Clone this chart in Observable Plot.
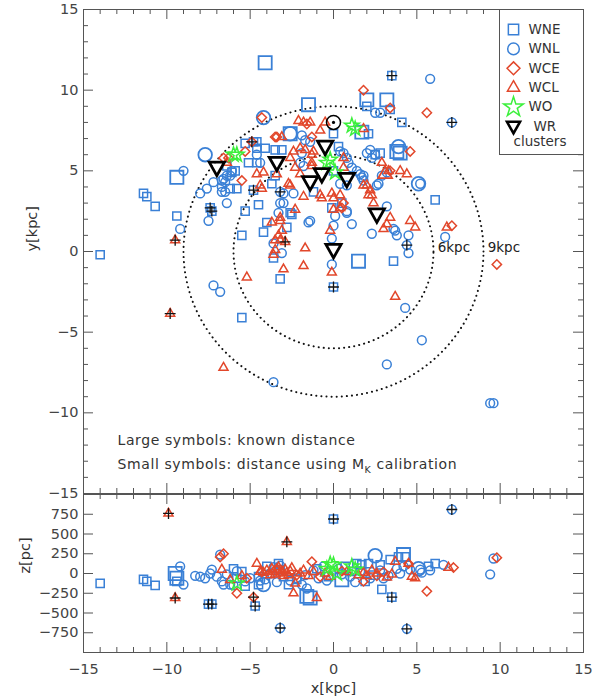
<!DOCTYPE html>
<html><head><meta charset="utf-8">
<script src="https://cdn.jsdelivr.net/npm/d3@7"></script>
<script src="https://cdn.jsdelivr.net/npm/@observablehq/plot@0.6"></script>
<style>
body{margin:0;background:#fff;}
#chart{position:relative;width:603px;height:699px;}
#chart svg{display:block;}
</style></head><body><div id="chart"></div>
<script>
// ---------- data: top panel (x, y [kpc], big = known distance, plus = marked) ----------
const wneXY = [[-4.1,11.7,1,0],[-5.3,6.7,0,0],[-4.6,6.8,0,0],[-4.6,6.4,0,0],[-4.1,6.4,0,0],[-2.6,7.3,1,0],[-9.4,4.6,1,0],[-11.4,3.6,0,0],[-11.2,3.4,0,0],[-10.7,2.8,0,0],[-9.4,2.2,0,0],[-7.4,2.7,0,1],[-7.3,2.5,0,1],[-5.8,3.9,0,0],[-5.1,5.5,0,0],[-4.6,5.5,0,0],[-4.8,3.8,0,1],[-5.3,2.5,0,0],[-4.5,2.9,0,0],[-2.6,2.4,0,0],[-5.5,1.0,0,0],[-4.0,1.8,0,0],[-4.2,1.2,0,0],[-2.8,1.5,0,0],[-14.0,-0.2,0,0],[-5.5,-4.1,0,0],[-3.2,-1.7,0,0],[-3.6,-0.4,0,0],[-2.5,2.3,0,0],[0,-2.2,0,1],[1.5,-0.6,1,0],[3.6,-0.6,0,0],[3.5,10.9,0,1],[2.0,9.4,1,0],[3.2,9.4,1,0],[2.0,9.0,0,0],[3.4,8.8,0,0],[4.1,8.0,0,0],[-1.5,9.1,1,0],[1.7,7.4,1,0],[2.1,7.3,0,0],[0,7.3,0,0],[0.3,6.5,0,0],[3.8,6.2,1,0],[4.0,6.1,1,0],[2.8,6.1,0,0],[2.5,6.0,0,0],[6.1,3.2,0,0],[-4.8,6.8,0,0],[-3.5,6.3,0,0],[-3.1,6.3,0,0],[-6.1,4.9,0,0],[-5.9,5.0,0,0],[-6.4,5.3,0,0],[-6.2,3.9,0,0],[-3.5,4.7,0,0],[-3.7,4.2,0,0],[-1.2,3.7,0,0],[0,5.0,0,0],[0.5,3.0,0,0],[-0.1,2.7,0,0]];
const wnlXY = [[-4.2,8.3,1,0],[-7.7,6.0,1,0],[-9.0,5.0,0,0],[-9.2,1.4,0,0],[-8.0,3.6,0,0],[-7.6,3.9,0,0],[-7.2,4.3,0,0],[-6.7,3.7,0,0],[-6.5,3.7,0,0],[-6.4,3.0,0,0],[-7.5,1.9,0,0],[-6.6,4.5,0,0],[-6.4,4.7,0,0],[-6.1,5.0,0,0],[-2.6,7.3,1,0],[-3.2,3.7,0,1],[-2.4,3.6,0,0],[-3.2,3.0,0,0],[-3.0,3.0,0,0],[-3.3,2.4,0,0],[-7.2,-2.1,0,0],[-6.8,-2.5,0,0],[-3.6,-8.1,0,0],[-3.1,-0.1,0,0],[-3.6,0.5,0,0],[-1.5,1.8,0,0],[0.8,2.4,0,0],[-1.4,1.9,0,0],[0,1.6,0,0],[1.1,1.7,0,0],[-0.1,0.8,0,0],[-0.1,-0.8,0,0],[3.2,2.8,0,0],[3.6,1.4,0,0],[3.7,1.3,0,0],[3.8,1.0,0,0],[2.3,1.1,0,0],[4.4,0.4,0,1],[4.5,-0.1,0,0],[4.5,1.0,0,0],[4.3,-3.5,0,0],[5.3,-5.5,0,0],[3.2,-7.0,0,0],[9.4,-9.4,0,0],[9.6,-9.4,0,0],[5.8,10.7,0,0],[2.5,8.6,0,0],[2.8,8.6,0,0],[7.1,8.0,0,1],[0.6,6.1,0,0],[0.4,6.2,0,0],[2.0,6.1,0,0],[2.3,5.8,0,0],[3.9,6.5,1,0],[1.6,4.8,0,0],[1.7,4.6,0,0],[1.8,4.4,0,0],[2.6,4.1,0,0],[5.1,4.2,1,0],[5.2,4.2,0,0],[6.7,0.9,0,0],[0.8,2.5,0,0],[0.1,2.2,0,0],[-1.9,7.2,0,0],[-1.7,6.9,0,0],[-1.9,6.1,0,0],[-1.4,6.8,0,0],[-2.0,5.5,0,0],[-1.8,5.3,0,0],[0.9,5.5,0,0],[1.1,5.2,0,0],[0.8,5.8,0,0],[1.4,5.0,0,0],[1.8,4.7,0,0],[2.9,4.7,0,0],[3.2,4.9,0,0],[0.4,4.2,0,0],[0.8,4.1,0,0],[2.2,6.3,0,0],[2.5,6.0,0,0],[-4.6,6.0,0,0],[-4.4,5.5,0,0],[-3.0,3.6,0,0],[-6.7,4.0,0,0],[-6.2,4.7,0,0],[-6.7,4.4,0,0],[-6.5,4.3,0,0],[2.7,4.2,0,0]];
const wceXY = [[-4.3,8.3,0,0],[-4.9,6.8,0,1],[-3.5,7.1,0,0],[-5.3,6.2,0,0],[-5.5,4.4,0,0],[-3.4,7.1,0,0],[1.8,10.0,0,0],[3.4,8.9,0,0],[5.6,8.6,0,0],[-1.3,7.1,0,0],[-1.6,7.9,0,0],[4.6,6.2,0,0],[3.4,5.0,0,0],[0.6,3.0,0,0],[0.5,2.7,0,0],[7.1,1.6,0,0],[9.8,-0.8,0,0],[-6.6,5.8,0,0],[-6.3,5.8,0,0]];
const wclXY = [[-3.1,7.1,0,0],[-4.6,4.8,0,0],[-4.2,4.9,0,0],[-4.4,4.1,0,0],[-4.3,3.9,0,0],[-2.6,4.1,0,0],[-2.3,2.6,0,0],[-3.7,1.8,0,0],[-3.2,1.9,0,0],[-3.1,1.3,0,0],[-3.3,1.0,0,0],[-2.9,0.6,0,1],[-9.5,0.7,0,1],[-9.8,-3.85,0,1],[-6.6,-7.2,0,0],[-5.2,-1.6,0,0],[-3.0,-1.1,0,0],[-3.6,-0.2,0,0],[-3.5,0.1,0,0],[-1.7,0.2,0,0],[-1.8,-0.9,0,0],[-3.2,2.1,0,0],[-3.5,0.7,0,0],[-3.2,0.7,0,0],[-0.7,3.3,0,0],[0,3.3,0,0],[0,2.6,0,0],[0.4,2.7,0,0],[-0.2,1.3,0,0],[-0.1,-1.3,0,0],[3.4,2.1,0,0],[3.2,1.7,0,0],[3.0,1.4,0,0],[4.6,1.9,0,0],[4.9,1.5,0,0],[3.7,-2.8,0,0],[6.8,1.5,0,0],[-0.5,8.0,0,0],[-1.8,8.0,0,0],[-1.4,8.0,0,0],[-2.1,8.1,0,0],[1.8,7.6,0,0],[0.6,5.8,0,0],[-1.2,6.2,0,0],[2.9,5.5,0,0],[3.1,4.8,1,0],[3.3,5.0,0,0],[4.0,5.0,0,0],[4.4,4.8,0,0],[1.8,4.1,0,0],[2.2,3.8,0,0],[2.3,3.5,0,0],[2.0,4.1,0,0],[2.1,3.5,0,0],[2.4,3.0,0,0],[-1.3,6.0,0,0],[-1.3,5.5,0,0],[-1.3,5.3,0,0],[0.6,5.2,0,0],[-0.1,3.6,0,0],[0.4,3.5,0,0],[-2.0,4.8,0,0],[-1.8,3.4,0,0],[-0.8,3.5,0,0],[-2.4,6.2,0,0],[-2.0,6.4,0,0],[-1.7,6.3,0,0],[-2.6,5.8,0,0],[-2.3,5.2,0,0],[-3.4,4.8,0,0],[-2.7,4.2,0,0],[-6.4,5.5,0,0],[-0.8,7.5,0,0]];
const woXY = [[-6.0,6.0],[-5.8,6.0],[1.1,7.8],[1.3,7.6],[-0.2,5.7],[0.1,4.9],[-0.4,5.5]];
const wrClusters = [[-7.0,5.2],[-3.4,5.5],[-0.5,6.5],[-0.7,4.8],[-1.4,4.3],[0.8,4.5],[2.6,2.3],[0,0.1]];
const sun = [[0,8.0]];
const ringRadii = [6, 9];

// ---------- data: bottom panel (x [kpc], z [pc], big, plus) ----------
const wneXZ = [[-14.0,-125,0,0],[-11.4,-75,0,0],[-11.2,-100,0,0],[-10.7,-150,0,0],[-9.5,0,1,0],[-9.4,-60,1,0],[-9.4,-100,0,0],[-7.5,-388,0,1],[-7.3,-388,0,1],[-6.0,60,0,0],[-5.5,25,0,0],[-5.3,-160,0,0],[-4.7,-412,0,1],[-4.5,-40,0,0],[-4.5,-140,0,0],[-3.3,125,0,0],[-3.2,50,0,0],[-3.0,-40,0,0],[-2.7,-140,0,0],[-2.2,-75,0,0],[-1.6,-290,1,0],[-1.4,-310,1,0],[0,690,0,1],[0.7,90,0,0],[1.1,25,0,0],[1.7,110,0,0],[2.1,125,0,0],[1.4,125,0,0],[1.9,-100,0,0],[2.8,110,0,0],[2.9,-200,0,0],[3.5,-300,0,1],[3.4,175,0,0],[3.9,210,0,0],[4.2,240,1,0],[4.3,210,0,0],[5.7,90,0,0],[6.1,125,0,0],[-1.0,60,0,0],[-0.3,-40,0,0],[0.5,-80,1,0],[2.4,-20,0,0],[-5.8,-60,0,0],[-4.0,90,0,0]];
const wnlXZ = [[-9.2,90,0,0],[-9.0,-140,0,0],[-8.0,-40,0,0],[-7.7,-60,0,0],[-7.4,0,0,0],[-7.0,-40,0,0],[-7.3,50,0,0],[-6.8,240,0,0],[-6.7,-100,0,0],[-6.6,-140,0,0],[-6.2,-140,0,0],[-4.2,-140,1,0],[-4.1,-75,0,0],[-3.8,0,0,0],[-3.2,-690,0,1],[-1.9,-140,0,0],[-1.6,-190,0,0],[-0.6,90,0,0],[0.5,-10,0,0],[2.5,225,1,0],[3.8,60,0,0],[4.2,90,0,0],[4.6,50,0,0],[5.1,60,1,0],[5.2,50,0,0],[5.3,10,0,0],[5.8,40,0,0],[6.6,110,0,0],[9.6,190,0,0],[9.4,-10,0,0],[4.4,-700,0,1],[7.1,810,0,1],[-5.8,30,0,0],[-5.0,-60,0,0],[-4.4,-90,0,0],[-3.6,80,0,0],[-2.2,-60,0,0],[-1.2,40,0,0],[-0.4,-90,0,0],[0.3,60,0,0],[1.0,-40,0,0],[1.6,30,0,0],[2.2,-60,0,0],[2.8,40,0,0],[3.3,-30,0,0],[-2.6,-90,0,0],[-1.7,-20,0,0],[-3.2,100,0,0],[-6.0,-150,0,0],[-8.3,-30,0,0],[-6.4,-10,0,0],[-5.3,-100,0,0],[-3.4,-110,0,0],[1.3,-110,0,0],[3.0,-60,0,0],[4.0,0,0,0],[-0.9,-60,0,0]];
const wceXZ = [[-6.8,210,0,0],[-6.6,250,0,0],[-5.8,-250,0,0],[-5.2,-60,0,0],[-4.8,-300,0,1],[-1.3,150,0,0],[1.8,-100,0,0],[4.5,125,0,0],[5.6,-225,0,0],[7.2,75,0,0],[9.8,200,0,0],[-4.3,20,0,0],[-2.2,-20,0,0],[0.5,30,0,0],[2.6,-30,0,0],[-3.4,60,0,0],[3.0,20,0,0],[-0.8,-40,0,0]];
const wclXZ = [[-9.9,760,0,1],[-9.5,-310,0,1],[-6.7,50,0,0],[-4.6,125,0,0],[-4.4,25,0,0],[-2.8,400,0,1],[-2.4,-250,0,0],[-2.3,-125,0,0],[-1.0,-310,0,0],[3.7,150,0,0],[4.5,125,0,0],[4.7,-40,0,0],[4.9,-60,0,0],[6.9,75,0,0],[-4.2,10,0,0],[-4.0,40,0,0],[-3.8,-20,0,0],[-3.7,60,0,0],[-3.6,20,0,0],[-3.5,-10,0,0],[-3.4,40,0,0],[-3.3,80,0,0],[-3.2,0,0,0],[-3.1,30,0,0],[-3.0,-30,0,0],[-2.9,50,0,0],[-2.8,10,0,0],[-2.7,-20,0,0],[-2.6,30,0,0],[-2.5,70,0,0],[-2.0,0,0,0],[-1.8,40,0,0],[-1.5,-30,0,0],[-1.2,20,0,0],[-0.5,0,0,0],[-0.2,-40,0,0],[0.8,20,0,0],[1.5,-20,0,0],[1.8,10,0,0],[2.0,-30,0,0],[2.3,40,0,0],[2.6,0,0,0],[3.2,-50,0,0],[3.5,-10,0,0],[-5.5,-30,0,0],[-6.2,-80,0,0]];
const woXZ = [[-5.8,-125],[0,110],[-0.4,60],[0.2,0],[1.1,90],[1.3,50],[-0.2,120]];

// ---------- ticks / labels ----------
const xMajor = [-15,-10,-5,0,5,10,15];
const xMinor = d3.range(-15,16).filter(v => v % 5 !== 0);
const yMajor = [-15,-10,-5,0,5,10,15];
const yMinor = d3.range(-15,16).filter(v => v % 5 !== 0);
const zMajor = [-750,-500,-250,0,250,500,750];
const legendItems = ["WNE","WNL","WCE","WCL","WO","WR"];

(function () {
const BLUE = "#3a80d6", RED = "#e2472b", GREEN = "#3cf03c", AX = "#555";
const FONT = "DejaVu Sans";
const fmt = v => v < 0 ? "\u2212" + (-v) : String(v);
const invTri = {draw(ctx, size){ const r = Math.sqrt(size/Math.PI); ctx.moveTo(-r,-r*0.72); ctx.lineTo(r,-r*0.72); ctx.lineTo(0,r*1.05); ctx.closePath(); }};
const SYM = {WNE:"square", WNL:"circle", WCE:"diamond2", WCL:"triangle2", WO:"star"};
const COL = {WNE:BLUE, WNL:BLUE, WCE:RED, WCL:RED, WO:GREEN};
const RS = {WNE:4.6, WNL:4.4, WCE:4.2, WCL:4.3, WO:4.6};
const RB = {WNE:7.4, WNL:6.8, WCE:6.4, WCL:6.6, WO:6.6};

function typeMarks(rows, t) {
  return [
    Plot.dot(rows.filter(d => !d[2]), {x: d => d[0], y: d => d[1], symbol: SYM[t], r: RS[t], stroke: COL[t], strokeWidth: 1.5, fill: "none"}),
    Plot.dot(rows.filter(d => d[2]), {x: d => d[0], y: d => d[1], symbol: SYM[t], r: RB[t], stroke: COL[t], strokeWidth: 1.8, fill: "none"})
  ];
}
function plusMarks(rows) {
  return Plot.dot(rows.filter(d => d[3]), {x: d => d[0], y: d => d[1], symbol: "plus", r: 3.6, stroke: "#111", strokeWidth: 1.3});
}
function frameTicks(fw, fh, ys, yMinorVals, minorY) {
  const m = [];
  m.push(Plot.tickX(xMinor, {x: d => d, insetBottom: fh - 5, stroke: AX}));
  m.push(Plot.tickX(xMajor, {x: d => d, insetBottom: fh - 10, stroke: AX}));
  m.push(Plot.tickX(xMinor, {x: d => d, insetTop: fh - 5, stroke: AX}));
  m.push(Plot.tickX(xMajor, {x: d => d, insetTop: fh - 10, stroke: AX}));
  if (minorY) {
    m.push(Plot.tickY(yMinorVals, {y: d => d, insetRight: fw - 5, stroke: AX}));
    m.push(Plot.tickY(yMinorVals, {y: d => d, insetLeft: fw - 5, stroke: AX}));
  }
  m.push(Plot.tickY(ys, {y: d => d, insetRight: fw - 10, stroke: AX}));
  m.push(Plot.tickY(ys, {y: d => d, insetLeft: fw - 10, stroke: AX}));
  return m;
}

const W = 603, mL = 83, mR = 20, FW = W - mL - mR;
const topH = 494, topMT = 9, topMB = 1, TFH = topH - topMT - topMB;
const botH = 205, botMT = 0, botMB = 47, BFH = botH - botMT - botMB;

const ringPts = ringRadii.flatMap(R => d3.range(0, 361, 2).map(a => ({R, x: R*Math.cos(a*Math.PI/180), y: R*Math.sin(a*Math.PI/180)})));
const ringLabels = ringRadii.map(R => ({x: R + 0.25, y: 0.25, t: R + "kpc"}));
const legendDY = i => 20 + i * 19.4;

const topPlot = Plot.plot({
  width: W, height: topH, marginLeft: mL, marginRight: mR, marginTop: topMT, marginBottom: topMB,
  x: {domain: [-15, 15], axis: null},
  y: {domain: [-15, 15], axis: null},
  style: {fontFamily: FONT, fontSize: "14px", overflow: "visible", background: "transparent"},
  marks: [
    Plot.line(ringPts, {x: "x", y: "y", z: "R", stroke: "#111", strokeWidth: 2, strokeDasharray: "0.1 5", strokeLinecap: "round"}),
    Plot.text(ringLabels, {x: "x", y: "y", text: "t", textAnchor: "start", fill: "#222", fontSize: 13.5}),
    ...typeMarks(wneXY, "WNE"), ...typeMarks(wnlXY, "WNL"), ...typeMarks(wceXY, "WCE"), ...typeMarks(wclXY, "WCL"), ...typeMarks(woXY.map(d => [d[0], d[1], 0, 0]), "WO"),
    plusMarks(wneXY), plusMarks(wnlXY), plusMarks(wceXY), plusMarks(wclXY),
    Plot.dot(wrClusters, {x: d => d[0], y: d => d[1], symbol: invTri, r: 7.6, stroke: "#000", strokeWidth: 2.8, fill: "none"}),
    Plot.dot(sun, {x: d => d[0], y: d => d[1], r: 7, stroke: "#000", strokeWidth: 1.5, fill: "none"}),
    Plot.dot(sun, {x: d => d[0], y: d => d[1], r: 1.6, fill: "#000"}),
    Plot.frame({stroke: AX}),
    ...frameTicks(FW, TFH, yMajor, yMinor, true),
    Plot.text(yMajor, {y: d => d, text: fmt, frameAnchor: "left", dx: -5, textAnchor: "end", fill: "#444", fontSize: 14.5}),
    Plot.text(["y[kpc]"], {frameAnchor: "left", dx: -51, rotate: -90, fill: "#333", fontSize: 14.5}),
    Plot.text(["Large symbols: known distance"], {frameAnchor: "top-left", dx: 34, dy: 431, lineAnchor: "middle", textAnchor: "start", fill: "#333", fontSize: 14}),
    Plot.text(["Small symbols: distance using MK calibration"], {frameAnchor: "top-left", dx: 34, dy: 455, lineAnchor: "middle", textAnchor: "start", fill: "#333", fontSize: 14}),
    Plot.frame({insetLeft: FW - 84, insetBottom: TFH - 145, stroke: AX, fill: "white"}),
    ...legendItems.map((t, i) => t === "WR"
      ? Plot.dot([t], {frameAnchor: "top-right", dx: -70, dy: legendDY(i), symbol: invTri, r: 6.5, stroke: "#000", strokeWidth: 2.6, fill: "none"})
      : Plot.dot([t], {frameAnchor: "top-right", dx: -70, dy: legendDY(i), symbol: SYM[t], r: t === "WO" ? 6.2 : 5.8, stroke: COL[t], strokeWidth: 1.5, fill: "none"})),
    ...legendItems.map((t, i) => Plot.text([t], {frameAnchor: "top-right", dx: t === "WR" ? -50 : -55, dy: legendDY(i), text: d => d, textAnchor: "start", lineAnchor: "middle", fill: "#333", fontSize: 13.5})),
    Plot.text(["clusters"], {frameAnchor: "top-right", dx: -70, dy: 132, textAnchor: "start", lineAnchor: "middle", fill: "#333", fontSize: 13.5})
  ]
});

const botPlot = Plot.plot({
  width: W, height: botH, marginLeft: mL, marginRight: mR, marginTop: botMT, marginBottom: botMB,
  x: {domain: [-15, 15], axis: null},
  y: {domain: [-1000, 1000], axis: null},
  style: {fontFamily: FONT, fontSize: "14px", overflow: "visible", background: "transparent"},
  marks: [
    ...typeMarks(wneXZ, "WNE"), ...typeMarks(wnlXZ, "WNL"), ...typeMarks(wceXZ, "WCE"), ...typeMarks(wclXZ, "WCL"), ...typeMarks(woXZ.map(d => [d[0], d[1], 0, 0]), "WO"),
    plusMarks(wneXZ), plusMarks(wnlXZ), plusMarks(wceXZ), plusMarks(wclXZ),
    Plot.frame({stroke: AX}),
    ...frameTicks(FW, BFH, zMajor, [], false),
    Plot.text(zMajor, {y: d => d, text: fmt, frameAnchor: "left", dx: -5, textAnchor: "end", fill: "#444", fontSize: 14.5}),
    Plot.text(xMajor, {x: d => d, text: fmt, frameAnchor: "bottom", dy: 17, lineAnchor: "middle", fill: "#444", fontSize: 14.5}),
    Plot.text(["z[pc]"], {frameAnchor: "left", dx: -58, rotate: -90, fill: "#333", fontSize: 14.5}),
    Plot.text(["x[kpc]"], {frameAnchor: "bottom", dy: 36, lineAnchor: "middle", fill: "#333", fontSize: 14.5})
  ]
});

const chart = document.getElementById("chart");
chart.append(topPlot, botPlot);

topPlot.querySelectorAll("text").forEach(el => {
  const s = el.textContent;
  if (s === "Large symbols: known distance" || s === "Small symbols: distance using MK calibration") {
    el.setAttribute("letter-spacing", "0.6");
  }
  if (s === "Small symbols: distance using MK calibration") {
    const NS = "http://www.w3.org/2000/svg";
    el.textContent = "Small symbols: distance using M";
    const k = document.createElementNS(NS, "tspan");
    k.setAttribute("font-size", "9.5"); k.setAttribute("dy", "4"); k.textContent = "K";
    const rest = document.createElementNS(NS, "tspan");
    rest.setAttribute("dy", "-4"); rest.textContent = " calibration";
    el.append(k, rest);
  }
});
})();
</script>
</body></html>
